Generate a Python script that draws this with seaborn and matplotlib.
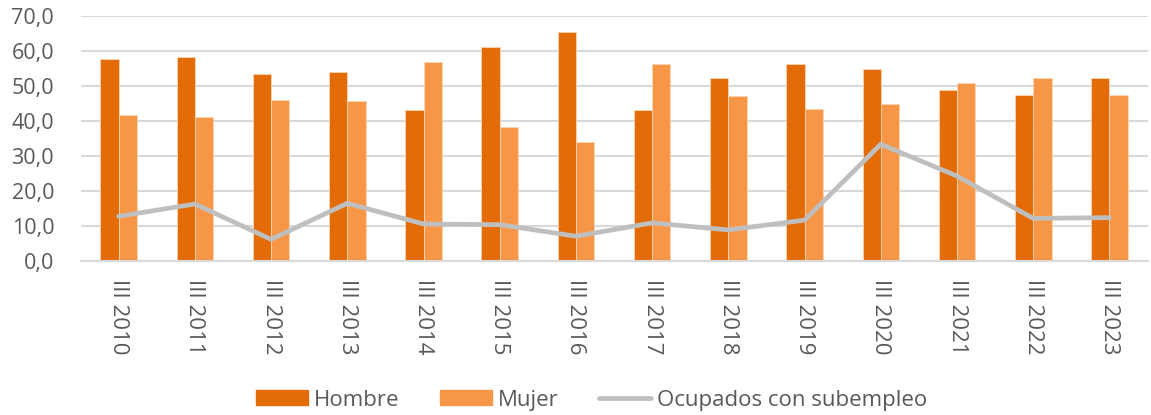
import matplotlib
matplotlib.use("Agg")
import matplotlib.pyplot as plt
import seaborn as sns
import pandas as pd
from matplotlib.ticker import FuncFormatter, MultipleLocator
from matplotlib.patches import Patch
from matplotlib.lines import Line2D

categories = ["III 2010", "III 2011", "III 2012", "III 2013", "III 2014", "III 2015", "III 2016",
              "III 2017", "III 2018", "III 2019", "III 2020", "III 2021", "III 2022", "III 2023"]
hombre = [57.8, 58.4, 53.5, 54.0, 43.1, 61.2, 65.6, 43.3, 52.3, 56.3, 54.9, 48.9, 47.4, 52.2]
mujer = [41.8, 41.1, 46.1, 45.7, 56.8, 38.3, 34.0, 56.4, 47.2, 43.4, 44.8, 50.9, 52.2, 47.6]
subempleo = [12.8, 16.3, 6.2, 16.5, 10.6, 10.4, 7.1, 10.9, 8.9, 11.7, 33.4, 24.3, 12.2, 12.4]

c_h = "#E36C09"
c_m = "#F79646"
c_l = "#BFBFBF"
txt = "#595959"

sns.set_theme(style="white")
plt.rcParams['font.family'] = ['Open Sans', 'DejaVu Sans']

df = pd.DataFrame({
    "cat": categories * 2,
    "val": hombre + mujer,
    "serie": ["Hombre"] * len(categories) + ["Mujer"] * len(categories),
})

fig = plt.figure(figsize=(11.51, 4.15), dpi=100)
ax = fig.add_axes([0.070, 0.371, 0.927, 0.590])

sns.barplot(data=df, x="cat", y="val", hue="serie", palette=[c_h, c_m],
            width=0.48, gap=0, ax=ax, legend=False, saturation=1,
            edgecolor="#FBD5B5", linewidth=0.6)
sns.lineplot(x=categories, y=subempleo, ax=ax, color=c_l, linewidth=3.4, sort=False,
             solid_capstyle="round", zorder=5)

ax.set_ylim(0, 70)
ax.set_xlim(-0.5, len(categories) - 0.5)
ax.yaxis.set_major_locator(MultipleLocator(10))
ax.yaxis.set_major_formatter(FuncFormatter(lambda v, p: f"{v:.1f}".replace(".", ",")))
ax.grid(axis="y", color="#D9D9D9", linewidth=1.5)
ax.set_axisbelow(True)
for s in ["top", "right", "left"]:
    ax.spines[s].set_visible(False)
ax.spines["bottom"].set_color("#D9D9D9")
ax.spines["bottom"].set_linewidth(1.5)
ax.set_xlabel("")
ax.set_ylabel("")
ax.tick_params(axis="both", length=0, labelsize=16, colors=txt)
ax.tick_params(axis="x", pad=13)
ax.tick_params(axis="y", pad=19, labelsize=15.5)
for lab in ax.get_xticklabels():
    lab.set_rotation(-90)
    lab.set_va("top")
    lab.set_ha("center")

handles = [Patch(facecolor=c_h, edgecolor=c_h), Patch(facecolor=c_m, edgecolor=c_m),
           Line2D([0], [0], color=c_l, linewidth=3.4, solid_capstyle="round")]
leg = fig.legend(handles, ["Hombre", "Mujer", "Ocupados con subempleo"], loc="center",
                 bbox_to_anchor=(0.514, 0.036), ncol=3, frameon=False, fontsize=16,
                 handlelength=2.35, handleheight=0.68, handletextpad=0.27, columnspacing=1.8,
                 borderpad=0.2)
for t in leg.get_texts():
    t.set_color(txt)

fig.savefig("out.png", dpi=100)
